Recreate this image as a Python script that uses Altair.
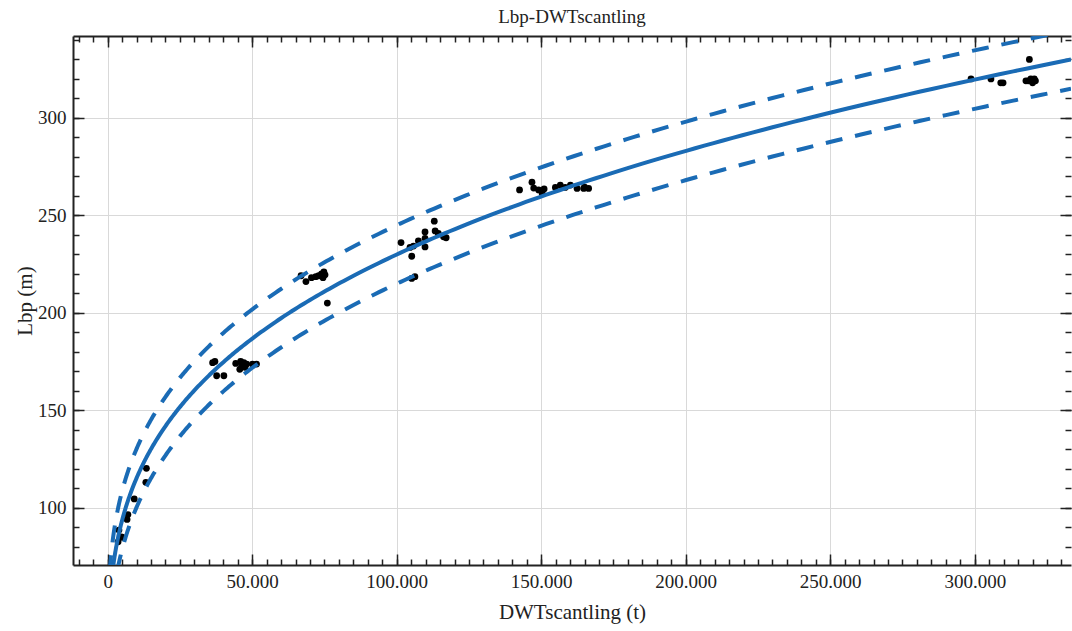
import altair as alt
import numpy as np
import pandas as pd

# Ship samples: deadweight (scantling draught) in tonnes and length between perpendiculars in metres
dwt = [3600, 3900, 4750, 5100, 6700, 7000, 9200, 13200, 13400,
       36300, 37100, 37700, 40200, 44300, 45700, 46000, 46300, 47100, 47500, 48100, 50100, 51500,
       66900, 68600, 70500, 72000, 73000, 74000, 74500, 74800, 75200, 76000,
       101500, 104600, 105200, 105200, 105800, 106300, 107500, 109800, 109800, 109800,
       113000, 113300, 114400, 116200, 117100,
       142500, 146800, 147400, 149100, 150300, 151000, 154900, 156600, 158300, 160100,
       162400, 164700, 165000, 166400,
       298700, 305600, 309000, 309800, 317700, 318500, 318900, 319400, 320000, 320600, 321000]
lbp = [82.5, 88.5, 85.0, 84.8, 94.0, 96.5, 104.5, 113.0, 120.2,
       174.4, 175.0, 167.7, 167.7, 174.0, 171.0, 175.0, 172.3, 174.4, 172.0, 173.7, 173.7, 173.7,
       219.0, 216.0, 218.0, 218.5, 219.0, 220.0, 218.0, 221.0, 219.5, 205.0,
       236.0, 233.5, 229.0, 217.6, 234.2, 218.5, 236.9, 241.5, 238.2, 233.8,
       247.0, 242.0, 240.7, 239.0, 238.5,
       263.0, 267.0, 264.0, 263.0, 261.5, 263.5, 264.3, 265.5, 264.3, 265.5,
       263.8, 263.8, 264.5, 263.8,
       320.0, 320.0, 318.0, 318.0, 319.0, 319.0, 330.0, 320.0, 318.0, 320.0, 319.0]

# Power-law regression Lbp = A * DWT^B with a constant +/- band
FIT_A = 7.27
FIT_B = 0.30
BAND = 15.0

X_DOMAIN = [-12000, 333300]
Y_DOMAIN = [70.6, 342.0]

x_major = [0, 50000, 100000, 150000, 200000, 250000, 300000]
x_minor = list(range(-10000, 333001, 5000))
y_major = [100, 150, 200, 250, 300]
y_minor = list(range(80, 341, 10))

points = pd.DataFrame({"dwt": dwt, "lbp": lbp})

curve_x = np.geomspace(700, X_DOMAIN[1], 400)
fit = FIT_A * curve_x ** FIT_B
curves = pd.DataFrame({"dwt": curve_x, "fit": fit, "upper": fit + BAND, "lower": fit - BAND})

FONT = "Liberation Serif"
INK = "#222222"
BLUE = "#1a6bb5"
GRID = "#d9d9d9"
MAJOR = 11
MINOR = 6
LINE_W = 4

xs = alt.Scale(domain=X_DOMAIN, nice=False, zero=False)
ys = alt.Scale(domain=Y_DOMAIN, nice=False, zero=False)


def tick_axis(orient, values, size, **extra):
    # Inward ticks: the axis line sits inside the frame by the tick length
    return alt.Axis(orient=orient, values=values, offset=-size, tickSize=size,
                    tickWidth=1.5, tickColor=INK, domain=False, grid=False,
                    labels=extra.pop("labels", False), title=extra.pop("title", None),
                    **extra)


label_style = dict(labelFont=FONT, labelFontSize=19, labelColor=INK, labelPadding=7)
title_style = dict(titleFont=FONT, titleFontSize=21, titleFontWeight="normal", titleColor=INK)

x_labels = tick_axis("bottom", x_major, MAJOR, labels=True, title="DWTscantling (t)",
                     labelExpr="replace(format(datum.value, ','), ',', '.')",
                     titlePadding=10, **label_style, **title_style)
y_labels = tick_axis("left", y_major, MAJOR, labels=True, title="Lbp (m)",
                     titlePadding=2, **label_style, **title_style)

scatter = alt.Chart(points).mark_circle(size=46, color="black", opacity=1).encode(
    x=alt.X("dwt:Q", scale=xs, axis=x_labels),
    y=alt.Y("lbp:Q", scale=ys, axis=y_labels),
)

fit_line = alt.Chart(curves).mark_line(color=BLUE, strokeWidth=LINE_W, clip=True).encode(
    x=alt.X("dwt:Q", scale=xs, axis=tick_axis("bottom", x_minor, MINOR)),
    y=alt.Y("fit:Q", scale=ys, axis=tick_axis("left", y_minor, MINOR)),
)

upper_line = alt.Chart(curves).mark_line(color=BLUE, strokeWidth=LINE_W, strokeDash=[17, 13],
                                         clip=True).encode(
    x=alt.X("dwt:Q", scale=xs, axis=tick_axis("top", x_major, MAJOR)),
    y=alt.Y("upper:Q", scale=ys, axis=tick_axis("right", y_major, MAJOR)),
)

lower_line = alt.Chart(curves).mark_line(color=BLUE, strokeWidth=LINE_W, strokeDash=[17, 13],
                                         clip=True).encode(
    x=alt.X("dwt:Q", scale=xs, axis=tick_axis("top", x_minor, MINOR)),
    y=alt.Y("lower:Q", scale=ys, axis=tick_axis("right", y_minor, MINOR)),
)

# Frame lines and grid
frame_axis = dict(offset=0, domain=True, domainColor=INK, domainWidth=2, ticks=False,
                  labels=False, title=None, grid=True, gridColor=GRID, gridWidth=1)
frame_a = alt.Chart(points).mark_circle(opacity=0).encode(
    x=alt.X("dwt:Q", scale=xs, axis=alt.Axis(orient="bottom", values=x_major, **frame_axis)),
    y=alt.Y("lbp:Q", scale=ys, axis=alt.Axis(orient="left", values=y_major, **frame_axis)),
)
frame_b = alt.Chart(points).mark_circle(opacity=0).encode(
    x=alt.X("dwt:Q", scale=xs, axis=alt.Axis(orient="top", offset=0, domain=True,
                                              domainColor=INK, domainWidth=2, ticks=False,
                                              labels=False, title=None, grid=False)),
    y=alt.Y("lbp:Q", scale=ys, axis=None),
)

chart = alt.layer(frame_a, frame_b, scatter, fit_line, upper_line, lower_line).resolve_axis(
    x="independent", y="independent"
).properties(
    width=998,
    height=529,
    padding={"left": 73, "top": 36, "right": 1, "bottom": 66},
    autosize=alt.AutoSizeParams(type="none"),
    title=alt.TitleParams("Lbp-DWTscantling", font=FONT, fontSize=19, fontWeight="normal",
                          color=INK, offset=8),
).configure_view(stroke=None)

chart.save("out.html", embed_options={"renderer": "svg", "actions": False})
